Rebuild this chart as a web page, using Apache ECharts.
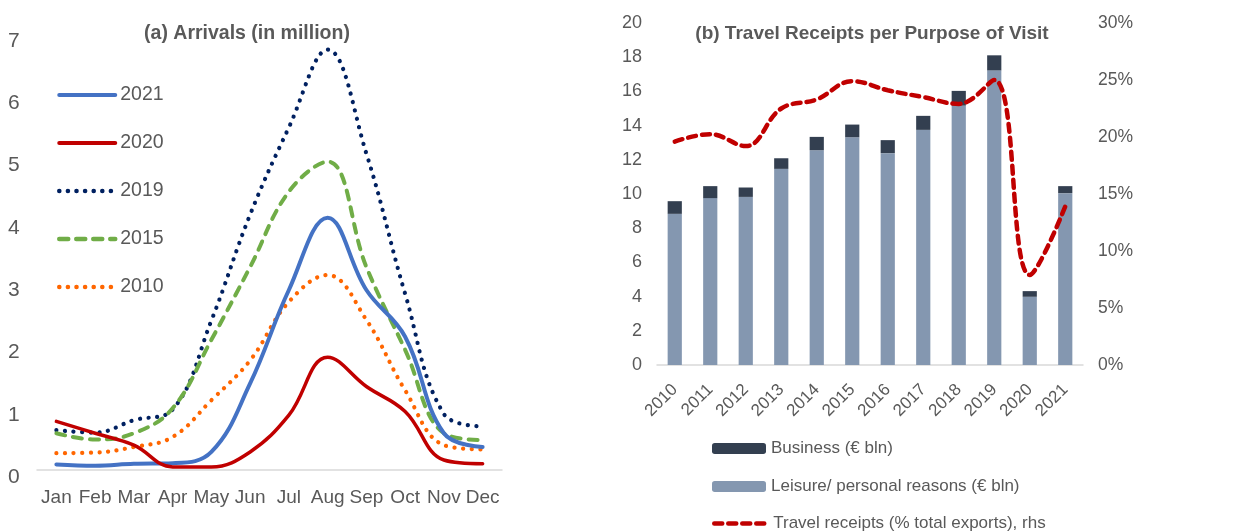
<!DOCTYPE html>
<html lang="en">
<head>
  <meta charset="UTF-8">
  <title>Arrivals and Travel Receipts</title>
  <script src="https://cdn.jsdelivr.net/npm/echarts@6/dist/echarts.min.js"></script>
  <style>
    body { margin: 0; background: #fff; }
  </style>
</head>
<body>
<div id="main" style="width: 1244px;height:531px;"></div>
<script type="text/javascript">

  // (a) arrivals, million
  const months = ['Jan', 'Feb', 'Mar', 'Apr', 'May', 'Jun', 'Jul', 'Aug', 'Sep', 'Oct', 'Nov', 'Dec'];
  const arr2021 = [0.09, 0.07, 0.10, 0.11, 0.29, 1.39, 2.89, 4.05, 2.89, 2.14, 0.59, 0.37];
  const arr2020 = [0.78, 0.59, 0.40, 0.05, 0.05, 0.29, 0.88, 1.81, 1.34, 0.94, 0.16, 0.10];
  const arr2019 = [0.64, 0.60, 0.80, 0.97, 2.40, 4.10, 5.50, 6.75, 5.08, 2.83, 0.90, 0.70];
  const arr2015 = [0.59, 0.49, 0.59, 0.99, 2.09, 3.26, 4.47, 4.95, 3.26, 1.93, 0.59, 0.48];
  const arr2010 = [0.27, 0.28, 0.37, 0.53, 1.12, 1.76, 2.70, 3.13, 2.41, 1.28, 0.40, 0.33];

  // (b) travel receipts
  const years = ['2010', '2011', '2012', '2013', '2014', '2015', '2016', '2017', '2018', '2019', '2020', '2021'];
  const leisure = [8.84, 9.76, 9.83, 11.47, 12.56, 13.32, 12.39, 13.75, 15.17, 17.23, 3.99, 10.05];
  const business = [0.74, 0.70, 0.55, 0.62, 0.78, 0.74, 0.76, 0.82, 0.86, 0.88, 0.33, 0.41];
  const receiptsShare = [19.6, 20.25, 19.2, 22.5, 23.3, 24.9, 24.1, 23.5, 22.9, 25.0, 7.9, 13.9];

  const font = 'Liberation Sans, Arial, sans-serif';
  const grey = '#595959';

  var myChart = echarts.init(document.getElementById('main'));

  // legend entry for a line: no circle marker, thick line like the plot
  function lineItem(name, width) {
    return {name: name, itemStyle: {opacity: 0}, lineStyle: {width: width, cap: 'round'}};
  }

  // one legend per row on the right, so rows sit where they should
  function rightLegend(item, top) {
    return {
      data: [item],
      left: 707, top: top,
      itemWidth: 54, itemHeight: 11,
      textStyle: {fontFamily: font, fontSize: 17, color: grey}
    };
  }

  myChart.setOption({
    backgroundColor: '#fff',
    textStyle: {fontFamily: font},
    animation: false,
    title: [
      {
        text: '(a) Arrivals (in million)',
        left: 242, top: 19, textAlign: 'center',
        textStyle: {fontFamily: font, fontSize: 19.5, fontWeight: 'bold', color: grey}
      },
      {
        text: '(b) Travel Receipts per Purpose of Visit',
        left: 867, top: 19, textAlign: 'center',
        textStyle: {fontFamily: font, fontSize: 19, fontWeight: 'bold', color: grey}
      }
    ],
    legend: [
      {
        data: [
          lineItem('2021', 4),
          lineItem('2020', 4),
          lineItem('2019', 4.5),
          lineItem('2015', 4.5),
          lineItem('2010', 4.5)
        ],
        orient: 'vertical',
        left: 52, top: 80,
        itemWidth: 56, itemHeight: 20, itemGap: 28,
        textStyle: {fontFamily: font, fontSize: 19.5, color: grey}
      },
      rightLegend('Business (€ bln)', 435),
      rightLegend('Leisure/ personal reasons (€ bln)', 473),
      rightLegend(lineItem('Travel receipts (% total exports), rhs', 4.5), 510)
    ],
    grid: [
      {left: 37, width: 465, top: 34, height: 436},
      {left: 657, width: 426, top: 23, height: 342}
    ],
    xAxis: [
      {
        gridIndex: 0, type: 'category', data: months, boundaryGap: true,
        axisLine: {lineStyle: {color: '#D9D9D9', width: 1.5}},
        axisTick: {show: false},
        axisLabel: {color: grey, fontSize: 19, margin: 18, interval: 0}
      },
      {
        gridIndex: 1, type: 'category', data: years, boundaryGap: true,
        axisLine: {lineStyle: {color: '#D9D9D9', width: 1.5}},
        axisTick: {show: false},
        axisLabel: {color: grey, fontSize: 17, margin: 22, rotate: 45, interval: 0}
      }
    ],
    yAxis: [
      {
        gridIndex: 0, type: 'value', min: 0, max: 7, interval: 1,
        axisLine: {show: false}, axisTick: {show: false}, splitLine: {show: false},
        axisLabel: {color: grey, fontSize: 21, align: 'left', margin: 29,
          verticalAlign: 'top', lineHeight: 14}
      },
      {
        gridIndex: 1, type: 'value', min: 0, max: 20, interval: 2,
        axisLine: {show: false}, axisTick: {show: false}, splitLine: {show: false},
        axisLabel: {color: grey, fontSize: 18, margin: 15}
      },
      {
        gridIndex: 1, type: 'value', position: 'right', min: 0, max: 30, interval: 5,
        axisLine: {show: false}, axisTick: {show: false}, splitLine: {show: false},
        axisLabel: {color: grey, fontSize: 17.5, margin: 15, formatter: '{value}%'}
      }
    ],
    series: [
      {
        name: '2021', type: 'line', xAxisIndex: 0, yAxisIndex: 0, data: arr2021,
        smooth: 0.4, symbol: 'none', z: 5,
        lineStyle: {color: '#4472C4', width: 4, cap: 'round'},
        itemStyle: {color: '#4472C4'}
      },
      {
        name: '2020', type: 'line', xAxisIndex: 0, yAxisIndex: 0, data: arr2020,
        smooth: 0.4, symbol: 'none', z: 5,
        lineStyle: {color: '#C00000', width: 3.5, cap: 'round'},
        itemStyle: {color: '#C00000'}
      },
      {
        name: '2019', type: 'line', xAxisIndex: 0, yAxisIndex: 0, data: arr2019,
        smooth: 0.4, symbol: 'none',
        lineStyle: {color: '#002060', width: 4.2, type: [0.1, 8.5], cap: 'round'},
        itemStyle: {color: '#002060'}
      },
      {
        name: '2015', type: 'line', xAxisIndex: 0, yAxisIndex: 0, data: arr2015,
        smooth: 0.4, symbol: 'none',
        lineStyle: {color: '#70AD47', width: 4, type: [9, 8], cap: 'round'},
        itemStyle: {color: '#70AD47'}
      },
      {
        name: '2010', type: 'line', xAxisIndex: 0, yAxisIndex: 0, data: arr2010,
        smooth: 0.4, symbol: 'none',
        lineStyle: {color: '#FF6600', width: 4.2, type: [0.1, 8.5], cap: 'round'},
        itemStyle: {color: '#FF6600'}
      },
      {
        name: 'Leisure/ personal reasons (€ bln)', type: 'bar', xAxisIndex: 1, yAxisIndex: 1,
        data: leisure, stack: 'rec', barWidth: '40%',
        itemStyle: {color: '#8497B0'}
      },
      {
        name: 'Business (€ bln)', type: 'bar', xAxisIndex: 1, yAxisIndex: 1,
        data: business, stack: 'rec', barWidth: '40%',
        itemStyle: {color: '#333F50'}
      },
      {
        name: 'Travel receipts (% total exports), rhs', type: 'line', xAxisIndex: 1, yAxisIndex: 2,
        data: receiptsShare, smooth: 0.4, symbol: 'none', z: 5,
        lineStyle: {color: '#C00000', width: 4.5, type: [8, 6], cap: 'round'},
        itemStyle: {color: '#C00000'}
      }
    ]
  });

</script>
</body>
</html>
